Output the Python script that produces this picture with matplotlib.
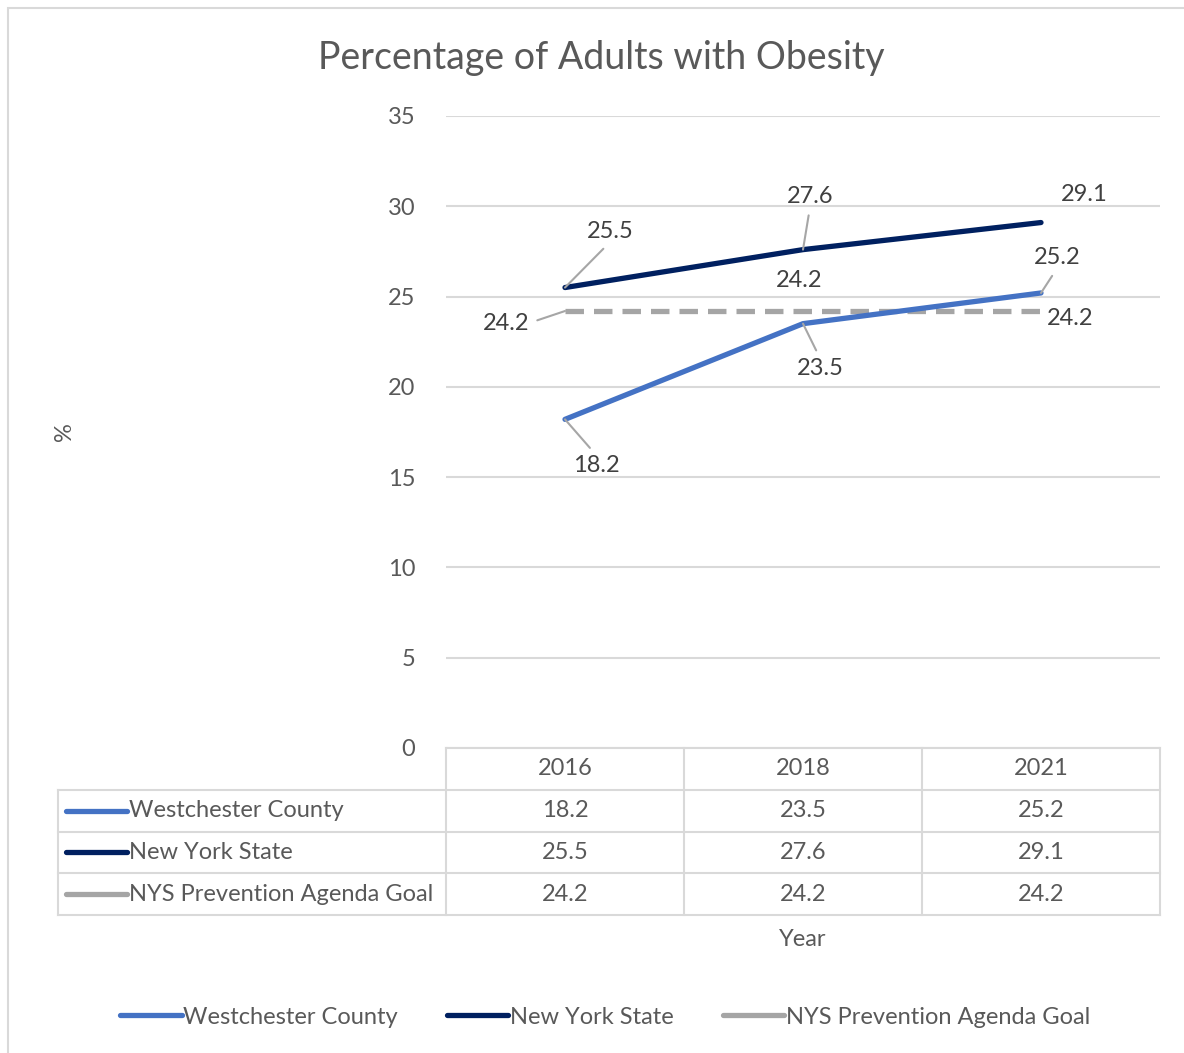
import matplotlib
matplotlib.use("Agg")
from matplotlib import pyplot as plt
from matplotlib.lines import Line2D
from matplotlib.patches import Rectangle

# Adult obesity rates by survey year
years = ["2016", "2018", "2021"]
westchester = [18.2, 23.5, 25.2]
new_york_state = [25.5, 27.6, 29.1]
agenda_goal = [24.2, 24.2, 24.2]
series_names = ["Westchester County", "New York State", "NYS Prevention Agenda Goal"]
y_ticks = [0, 5, 10, 15, 20, 25, 30, 35]

# label offsets in pixels, and whether a leader line is drawn
label_offsets = {
    "Westchester County": [(31, -46, True), (17, -45, True), (16, 35, True)],
    "New York State": [(45, 56, True), (7, 53, True), (43, 28, False)],
    "NYS Prevention Agenda Goal": [(-59, -12, True), (-4, 31, False), (29, -7, False)],
}

colors = ["#4472C4", "#002060", "#A5A5A5"]
grid_color = "#D9D9D9"
text_color = "#595959"
label_color = "#404040"

plt.rcParams["font.family"] = ["Lato", "DejaVu Sans"]
W, H = 1184, 1053
fig = plt.figure(figsize=(W / 100, H / 100), dpi=100)


def fx(px):
    return px / W


def fy(py):
    return 1 - py / H


# plot area
ax = fig.add_axes([fx(446), fy(748), fx(1160) - fx(446), fy(116) - fy(748)])
xs = [i + 0.5 for i in range(len(years))]
all_series = [westchester, new_york_state, agenda_goal]

for name, vals, col in zip(series_names, all_series, colors):
    if name == "NYS Prevention Agenda Goal":
        ax.plot(xs, vals, color=col, lw=3.8, linestyle=(0, (3.5, 1.9)), zorder=3)
    else:
        ax.plot(xs, vals, color=col, lw=3.8, solid_capstyle="round", zorder=4)
    for x, v, (dx, dy, leader) in zip(xs, vals, label_offsets[name]):
        kw = {}
        if leader:
            rp = (0.5, 0.0) if dy > 0 else (0.5, 1.0)
            if dx < -20:
                rp = (1.0, 0.5)
            kw["arrowprops"] = dict(arrowstyle="-", color="#A6A6A6", lw=1.5,
                                    shrinkA=4, shrinkB=0, relpos=rp)
        ax.annotate(f"{v:.1f}", xy=(x, v), xytext=(dx, dy), textcoords="offset pixels",
                    ha="center", va="center", fontsize=17, color=label_color,
                    zorder=5, **kw)

ax.set_xlim(0, 3)
ax.set_ylim(0, 35)
ax.set_yticks(y_ticks)
ax.set_xticks([])
ax.yaxis.grid(True, color=grid_color, lw=1.5)
ax.set_axisbelow(True)
ax.tick_params(axis="y", length=0, pad=22, labelsize=17, labelcolor=text_color)
for s in ax.spines.values():
    s.set_visible(False)

# data table under the plot, sharing the category scale
left_unit = -(446 - 58) / 238
tab = fig.add_axes([fx(58), fy(915), fx(1160) - fx(58), fy(748) - fy(915)])
tab.set_xlim(left_unit, 3)
tab.set_ylim(4, 0)
tab.axis("off")
line_kw = dict(color=grid_color, lw=1.5, clip_on=False)
# header row
tab.plot([0, 3], [0, 0], **line_kw)
for c in range(4):
    tab.plot([c, c], [0, 4], **line_kw)
for r in range(1, 5):
    tab.plot([left_unit, 3], [r, r], **line_kw)
tab.plot([left_unit, left_unit], [1, 4], **line_kw)
for x, yr in zip(xs, years):
    tab.text(x, 0.5, yr, ha="center", va="center", fontsize=17, color=text_color)
for r, (name, vals, col) in enumerate(zip(series_names, all_series, colors), start=1):
    tab.plot([-1.597, -1.340], [r + 0.5, r + 0.5], color=col, lw=3.8,
             solid_capstyle="round", clip_on=False)
    tab.text(-1.330, r + 0.5, name, ha="left", va="center", fontsize=17, color=text_color)
    for x, v in zip(xs, vals):
        tab.text(x, r + 0.5, f"{v:.1f}", ha="center", va="center", fontsize=17,
                 color=text_color)

fig.text(fx(601), fy(58), "Percentage of Adults with Obesity", ha="center", va="center",
         fontsize=27, color=text_color)
fig.text(fx(803), fy(940), "Year", ha="center", va="center", fontsize=17, color=text_color)
fig.text(fx(65), fy(432), "%", ha="center", va="center", rotation=90, fontsize=17,
         color=text_color)

handles = [Line2D([], [], color=c, lw=3.8, solid_capstyle="round") for c in colors]
fig.legend(handles, series_names, loc="center", bbox_to_anchor=(fx(605), fy(1017)),
           ncol=3, frameon=False, fontsize=17, handlelength=2.6, handletextpad=0.05,
           columnspacing=2.1, labelcolor=text_color)

# outer chart border (top and left edges)
fig.add_artist(Rectangle((fx(8), fy(1060)), fx(1200) - fx(8), fy(8) - fy(1060),
                         transform=fig.transFigure, fill=False, edgecolor=grid_color,
                         lw=1.5))

fig.savefig("out.png", dpi=100, facecolor="white")
